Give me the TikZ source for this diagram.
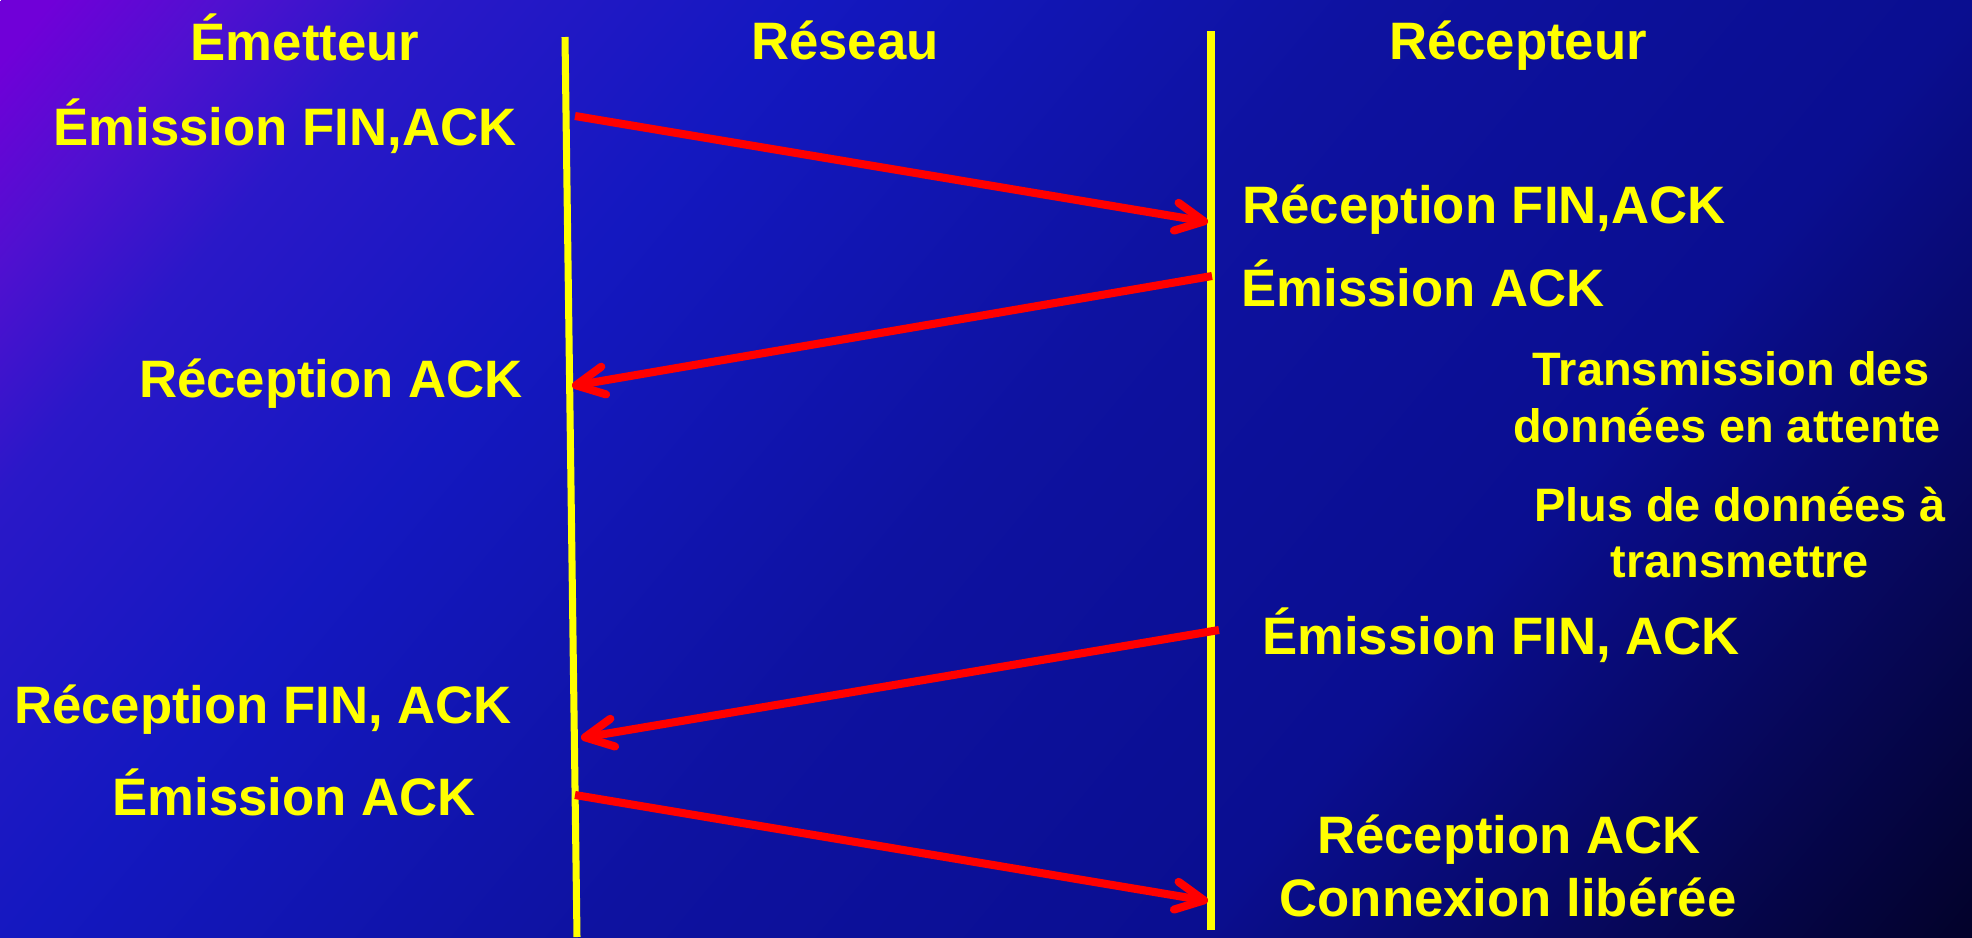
\documentclass[tikz,border=0pt]{standalone}
\usepackage{fontspec}
\setmainfont{Liberation Sans}
\usetikzlibrary{arrows.meta}

\definecolor{jaune}{RGB}{255,255,0}
\definecolor{rouge}{RGB}{255,0,0}
\definecolor{bgviolet}{HTML}{7000D8}
\definecolor{bgpurple}{HTML}{5010D0}
\definecolor{bgmauve}{HTML}{2A18C8}
\definecolor{bgblue}{HTML}{1418C0}
\definecolor{bgmid}{HTML}{0E12A0}
\definecolor{bgnavy}{HTML}{0A0E90}
\definecolor{bgdeep}{HTML}{070860}
\definecolor{bgdark}{HTML}{03022A}
% degrade du fond, 1bp = 1px le long de la diagonale
\pgfdeclarehorizontalshading{slidebg}{100bp}{color(0bp)=(bgviolet); color(40bp)=(bgviolet);
  color(170bp)=(bgpurple); color(320bp)=(bgmauve); color(620bp)=(bgblue); color(1056bp)=(bgmid);
  color(1511bp)=(bgnavy); color(1800bp)=(bgdeep); color(2113bp)=(bgdark); color(2300bp)=(bgdark)}

\begin{document}
\begin{tikzpicture}[x=0.02cm, y=-0.02cm,
    lbl/.style={text=jaune, font=\bfseries\fontsize{30}{36}\selectfont, anchor=base, inner sep=0pt},
    lblp/.style={lbl, font=\bfseries\fontsize{26.7}{32}\selectfont},
    vie/.style={draw=jaune, line width=4pt},
    msg/.style={draw=rouge, line width=4.6pt, -{Straight Barb[length=16pt,width=16pt,round]}}]
    % fond
    \useasboundingbox (0,0) rectangle (1972,937);
    \begin{scope}
        \clip (0,0) rectangle (1972,937);
        \node[inner sep=0pt, outer sep=0pt, anchor=west, rotate=-40, xscale=0.5669, yscale=20, transform shape]
            (fond) at (0,0) {\pgfuseshading{slidebg}};
    \end{scope}

    % lignes de vie
    \coordinate (eh) at (565,37); \coordinate (eb) at (577,937);
    \coordinate (rh) at (1211,31); \coordinate (rb) at (1211,930);
    \draw[vie] (eh) -- (eb);
    \draw[vie] (rh) -- (rb);

    % titres
    \node[lbl] (emet) at (305,60) {Émetteur};
    \node[lbl] (res) at (845,59) {Réseau};
    \node[lbl] (recep) at (1518,59) {Récepteur};

    % côté émetteur
    \node[lbl] (e1) at (285,145) {Émission FIN,ACK};
    \node[lbl] (e2) at (331,397) {Réception ACK};
    \node[lbl] (e3) at (263,723) {Réception FIN, ACK};
    \node[lbl] (e4) at (294,815) {Émission ACK};

    % côté récepteur
    \node[lbl] (r1) at (1484,223) {Réception FIN,ACK};
    \node[lbl] (r2) at (1423,306) {Émission ACK};
    \node[lblp] (r3) at (1731,385) {Transmission des};
    \node[lblp] (r4) at (1727,442) {données en attente};
    \node[lblp] (r5) at (1740,521) {Plus de données à};
    \node[lblp] (r6) at (1740,577) {transmettre};
    \node[lbl] (r7) at (1501,654) {Émission FIN, ACK};
    \node[lbl] (r8) at (1509,853) {Réception ACK};
    \node[lbl] (r9) at (1508,916) {Connexion libérée};

    % messages
    \coordinate (a1) at (575,116); \coordinate (b1) at (1208,222);
    \coordinate (b2) at (1212,276); \coordinate (a2) at (572,386);
    \coordinate (b3) at (1219,630); \coordinate (a3) at (581,738);
    \coordinate (a4) at (575,795); \coordinate (b4) at (1208,901);
    \draw[msg] (a1) -- (b1);
    \draw[msg] (b2) -- (a2);
    \draw[msg] (b3) -- (a3);
    \draw[msg] (a4) -- (b4);
\end{tikzpicture}
\end{document}
